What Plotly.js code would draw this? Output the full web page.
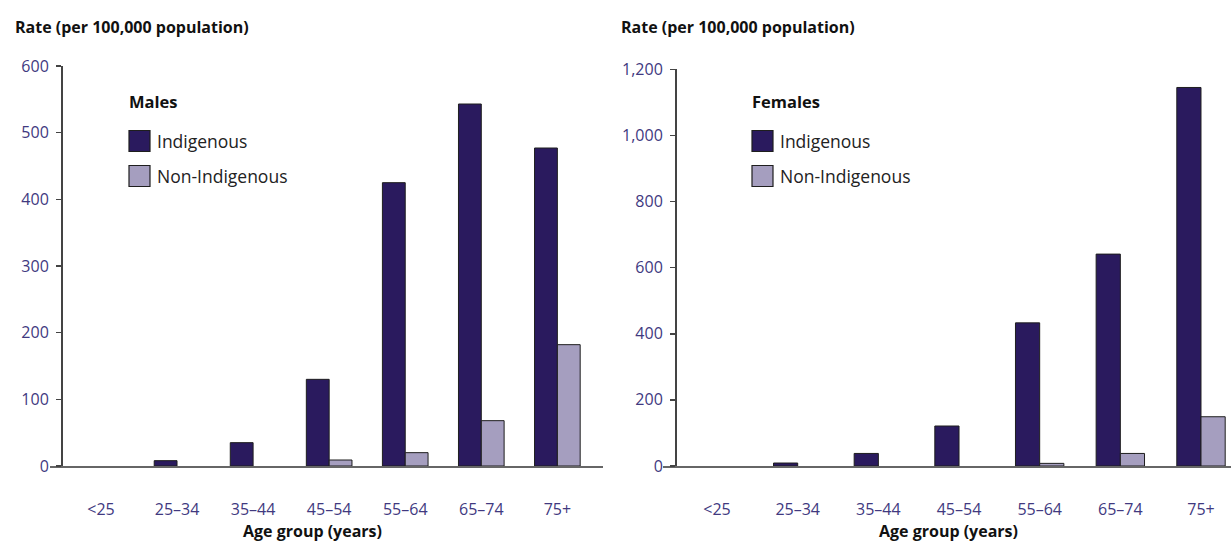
<!DOCTYPE html>
<html>
<head>
<meta charset="utf-8">
<script src="https://cdn.plot.ly/plotly-3.0.1.min.js"></script>
<style>
html,body{margin:0;padding:0;background:#fff;}
#chart{width:1231px;height:542px;}
</style>
</head>
<body>
<div id="chart"></div>
<script>
// ---- Data ----
const categories = ['<25', '25–34', '35–44', '45–54', '55–64', '65–74', '75+'];
const malesIndigenous = [0, 8, 35, 130, 425, 543, 477];
const malesNonIndigenous = [0, 0, 0, 9, 20, 68, 182];
const femalesIndigenous = [0, 9, 38, 121, 433, 641, 1145];
const femalesNonIndigenous = [0, 0, 0, 0, 8, 38, 149];
const seriesNames = ['Indigenous', 'Non-Indigenous'];
const panelTitles = ['Males', 'Females'];
const yTitle = 'Rate (per 100,000 population)';
const xTitle = 'Age group (years)';

// ---- Styles ----
const W = 1231, H = 542;
const colIndig = '#2a1a5e';
const colNon = '#a59ebf';
const outline = '#1e1e1e';
const tickColor = '#41397f';
const font = 'Open Sans, Lato, sans-serif';
const px = v => v / W;
const py = v => (H - v) / H;

function bar(x, y, name, color, xa, ya) {
  return {
    type: 'bar', x: x, y: y, name: name, xaxis: xa, yaxis: ya,
    marker: {color: color, line: {color: outline, width: y.map(v => v > 0 ? 1 : 0)}},
    showlegend: false, hoverinfo: 'x+y'
  };
}

const data = [
  bar(categories, malesIndigenous, seriesNames[0], colIndig, 'x', 'y'),
  bar(categories, malesNonIndigenous, seriesNames[1], colNon, 'x', 'y'),
  bar(categories, femalesIndigenous, seriesNames[0], colIndig, 'x2', 'y2'),
  bar(categories, femalesNonIndigenous, seriesNames[1], colNon, 'x2', 'y2')
];

const xCommon = {
  type: 'category', showline: true, linecolor: '#666', linewidth: 2,
  ticks: '', showgrid: false, zeroline: false, fixedrange: true,
  tickfont: {family: font, size: 16, color: tickColor},
  ticklabelstandoff: 28, automargin: false
};
const yCommon = {
  showline: true, linecolor: '#444', linewidth: 1.6,
  ticks: 'outside', ticklen: 5, tickcolor: '#444', tickwidth: 1.5,
  showgrid: false, zeroline: false, fixedrange: true,
  tickfont: {family: font, size: 16, color: tickColor},
  tickformat: ',d', anchor: 'free', automargin: false, ticklabelstandoff: 4
};

const layout = {
  width: W, height: H,
  margin: {l: 0, r: 0, t: 0, b: 0},
  paper_bgcolor: '#fff', plot_bgcolor: 'rgba(0,0,0,0)',
  barmode: 'group', bargap: 0.4, bargroupgap: 0,
  showlegend: false,
  xaxis: Object.assign({}, xCommon, {domain: [px(50), px(603)], range: [-0.67, 6.6], anchor: 'y'}),
  yaxis: Object.assign({}, yCommon, {domain: [py(466), py(66)], range: [0, 600], dtick: 100, position: px(61)}),
  xaxis2: Object.assign({}, xCommon, {domain: [px(663), 1], range: [-0.67, 6.372], anchor: 'y2'}),
  yaxis2: Object.assign({}, yCommon, {domain: [py(466), py(69.3)], range: [0, 1200], dtick: 200, position: px(675)}),
  shapes: [],
  annotations: []
};

const titleFont = {family: font, size: 16, color: '#111', weight: 'bold'};
const legFont = {family: font, size: 17.5, color: '#222'};

function addPanelText(yx, xcx) {
  layout.annotations.push({xref: 'paper', yref: 'paper', x: px(yx), y: py(27), xanchor: 'left', yanchor: 'middle',
    text: '<b>' + yTitle + '</b>', showarrow: false, font: titleFont});
  layout.annotations.push({xref: 'paper', yref: 'paper', x: px(xcx), y: py(531), xanchor: 'center', yanchor: 'middle',
    text: '<b>' + xTitle + '</b>', showarrow: false, font: titleFont});
}
addPanelText(13, 312);
addPanelText(619, 948);

function addLegend(x0, title) {
  layout.annotations.push({xref: 'paper', yref: 'paper', x: px(x0 - 2), y: py(101), xanchor: 'left', yanchor: 'middle',
    text: '<b>' + title + '</b>', showarrow: false, font: {family: font, size: 16.5, color: '#111'}});
  const rows = [[141, colIndig, seriesNames[0]], [176, colNon, seriesNames[1]]];
  rows.forEach(r => {
    layout.shapes.push({type: 'rect', xref: 'paper', yref: 'paper',
      x0: px(x0), x1: px(x0 + 21), y0: py(r[0] - 10.5), y1: py(r[0] + 10.5),
      fillcolor: r[1], line: {color: outline, width: 1.2}});
    layout.annotations.push({xref: 'paper', yref: 'paper', x: px(x0 + 26), y: py(r[0]), xanchor: 'left', yanchor: 'middle',
      text: r[2], showarrow: false, font: legFont});
  });
}
addLegend(129, panelTitles[0]);
addLegend(752, panelTitles[1]);

Plotly.newPlot('chart', data, layout, {staticPlot: true, displayModeBar: false});
</script>
</body>
</html>
